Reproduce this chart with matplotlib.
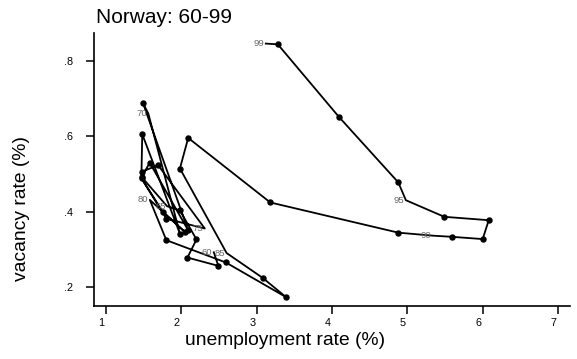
import matplotlib
matplotlib.use("Agg")
import matplotlib.pyplot as plt
import matplotlib.transforms as mtransforms

plt.rcParams["font.family"] = ["Liberation Sans", "DejaVu Sans"]

# Norway 1960-1999: unemployment rate vs vacancy rate (both %)
years = list(range(1960, 2000))
unemployment = [
    2.43, 2.49, 2.08, 2.20, 1.98, 1.81, 1.47, 1.58, 2.09, 1.49,
    1.56, 1.98, 1.48, 1.47, 1.69, 2.31, 1.80, 1.47, 1.75, 2.05,
    1.58, 1.80, 2.59, 3.39, 3.08, 2.60, 1.98, 2.09, 3.18, 4.88,
    5.34, 5.59, 6.00, 6.08, 5.49, 4.98, 4.88, 4.09, 3.28, 3.12,
]
vacancy = [
    0.292, 0.256, 0.278, 0.326, 0.403, 0.414, 0.492, 0.529, 0.350, 0.687,
    0.660, 0.341, 0.605, 0.505, 0.523, 0.355, 0.381, 0.488, 0.400, 0.345,
    0.431, 0.324, 0.265, 0.173, 0.224, 0.290, 0.514, 0.595, 0.424, 0.344,
    0.336, 0.333, 0.327, 0.377, 0.386, 0.430, 0.477, 0.651, 0.843, 0.845,
]
labelled = [1960, 1965, 1970, 1975, 1980, 1985, 1990, 1995, 1999]

x_ticks = [1, 2, 3, 4, 5, 6, 7]
y_ticks = [0.2, 0.4, 0.6, 0.8]
y_tick_labels = [".2", ".4", ".6", ".8"]

fig = plt.figure(figsize=(5.77, 3.59), dpi=100)
ax = fig.add_axes([0.163, 0.148, 0.825, 0.760])

ax.plot(unemployment, vacancy, color="black", lw=1.3, zorder=2)

# markers only on the unlabelled years; labelled years show the two-digit year
mx = [u for y, u in zip(years, unemployment) if y not in labelled]
my = [v for y, v in zip(years, vacancy) if y not in labelled]
ax.plot(mx, my, "o", ms=3.6, color="black", zorder=3)

for y, u, v in zip(years, unemployment, vacancy):
    if y in labelled:
        ax.annotate(str(y)[2:], (u, v), xytext=(-1, 0), textcoords="offset points",
                    ha="right", va="center", fontsize=6.8, color="#666666")

ax.set_xlim(0.84, 7.16)
ax.set_ylim(0.15, 0.873)
ax.set_xticks(x_ticks)
ax.set_xticklabels([str(t) for t in x_ticks])
ax.set_yticks(y_ticks)
ax.set_yticklabels(y_tick_labels)
ax.tick_params(direction="out", length=6, width=1.1, labelsize=7.8, pad=9)
ax.tick_params(axis="x", pad=3)

shift = mtransforms.ScaledTranslation(-0.045, 0, fig.dpi_scale_trans)
for lab in ax.get_xticklabels():
    lab.set_transform(lab.get_transform() + shift)

for side in ("top", "right"):
    ax.spines[side].set_visible(False)
for side in ("left", "bottom"):
    ax.spines[side].set_linewidth(1.2)

fig.text(0.166, 0.937, "Norway: 60-99", fontsize=15, ha="left", va="baseline")
fig.text(0.494, 0.039, "unemployment rate (%)", fontsize=13.9, ha="center", va="baseline")
fig.text(0.038, 0.42, "vacancy rate (%)", fontsize=13.9, ha="center", va="center",
         rotation=90)

fig.savefig("out.png", dpi=100)
